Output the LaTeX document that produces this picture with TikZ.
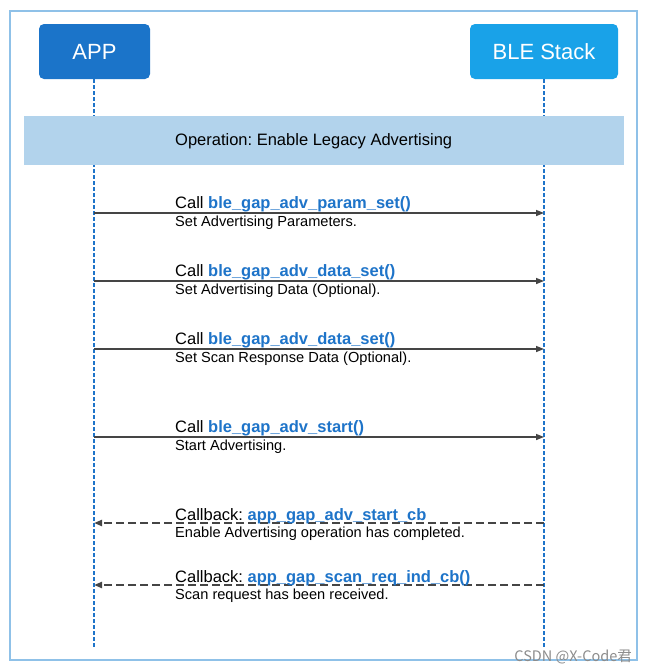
\documentclass[tikz,border=0pt]{standalone}
\usepackage{fontspec}
\setmainfont{Liberation Sans}
\newfontfamily\cjk{Noto Sans CJK SC}
\usetikzlibrary{arrows.meta}
\definecolor{appblue}{HTML}{1B74C9}
\definecolor{bleblue}{HTML}{19A2E8}
\definecolor{bannerblue}{HTML}{B2D3EC}
\definecolor{framecol}{HTML}{8FC1E8}
\definecolor{fnblue}{HTML}{1E74C9}
\definecolor{arrowgray}{HTML}{454545}
\tikzset{
  x=1pt,y=-1pt,
  actor/.style={rounded corners=5pt, minimum width=111pt, minimum height=55pt, text=white, font=\fontsize{22}{26}\selectfont, inner sep=0pt},
  lifeline/.style={draw=fnblue, line width=1.5pt, dash pattern=on 4pt off 2pt},
  callarrow/.style={draw=arrowgray, line width=1.4pt, -{Triangle[length=8pt,width=6pt]}},
  backarrow/.style={draw=arrowgray, line width=2pt, dash pattern=on 8pt off 4pt, -{Triangle[length=8pt,width=6pt]}},
  mainlbl/.style={anchor=base west, inner sep=0pt, font=\fontsize{16.5}{19}\selectfont},
  sublbl/.style={anchor=base west, inner sep=0pt, font=\fontsize{14.6}{17}\selectfont},
}
\newcommand{\fn}[1]{\textcolor{fnblue}{\textbf{#1}}}
\begin{document}
\frenchspacing
\begin{tikzpicture}
\useasboundingbox (0,0) rectangle (646,672);
\fill[white] (0,0) rectangle (646,672);
\draw[framecol, line width=1.5pt] (10,11) rectangle (637,660);
% actors
\node[actor, fill=appblue] (app) at (94.5,51.5) {APP};
\node[actor, fill=bleblue, minimum width=148pt] (ble) at (544,51.5) {BLE Stack};
% lifeline ends
\coordinate (append) at (94,647);
\coordinate (bleend) at (544,647);
\draw[lifeline] (app.south -| append) -- (append);
\draw[lifeline] (ble.south -| bleend) -- (bleend);
% banner
\node[fill=bannerblue, minimum width=600pt, minimum height=49pt, inner sep=0pt] (banner) at (324,140.5) {};
\node[anchor=base west, inner sep=0pt, font=\fontsize{16.5}{19}\selectfont] (bantxt) at (175,145) {Operation: Enable Legacy Advertising};
% message coordinates
\foreach \i/\y in {1/213,2/281,3/349,4/437,5/523,6/585}{
  \coordinate (a\i) at (94,\y);
  \coordinate (b\i) at (544,\y);
}
\draw[callarrow] (a1) -- (b1);
\draw[callarrow] (a2) -- (b2);
\draw[callarrow] (a3) -- (b3);
\draw[callarrow] (a4) -- (b4);
\draw[backarrow] (b5) -- (a5);
\draw[backarrow] (b6) -- (a6);
% labels
\node[mainlbl] (m1) at (175,208.5) {Call \fn{ble\_gap\_adv\_param\_set()}};
\node[sublbl] (s1) at (175,226.5) {Set Advertising Parameters.};
\node[mainlbl] (m2) at (175,276.5) {Call \fn{ble\_gap\_adv\_data\_set()}};
\node[sublbl] (s2) at (175,294.5) {Set Advertising Data (Optional).};
\node[mainlbl] (m3) at (175,344.5) {Call \fn{ble\_gap\_adv\_data\_set()}};
\node[sublbl] (s3) at (175,362.5) {Set Scan Response Data (Optional).};
\node[mainlbl] (m4) at (175,432.5) {Call \fn{ble\_gap\_adv\_start()}};
\node[sublbl] (s4) at (175,450.5) {Start Advertising.};
\node[mainlbl] (m5) at (175,520) {Callback: \fn{app\_gap\_adv\_start\_cb}};
\node[sublbl] (s5) at (175,537.5) {Enable Advertising operation has completed.};
\node[mainlbl] (m6) at (175,582) {Callback: \fn{app\_gap\_scan\_req\_ind\_cb()}};
\node[sublbl] (s6) at (175,599.5) {Scan request has been received.};
% watermark
\node[anchor=base east, inner sep=0pt, text=black!45, font=\cjk\fontsize{14.5}{16}\selectfont] (wm) at (632,661) {CSDN @X-Code君};
\end{tikzpicture}
\end{document}
